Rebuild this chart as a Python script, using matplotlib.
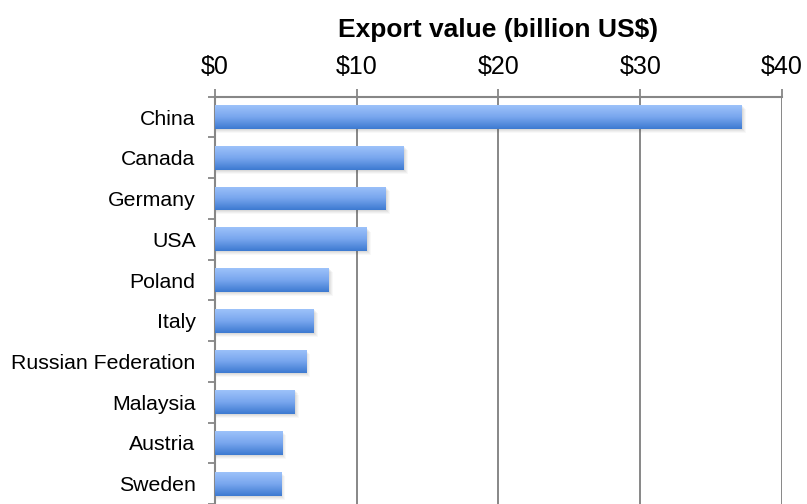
import numpy as np
import matplotlib
matplotlib.use("Agg")
import matplotlib.pyplot as plt
from matplotlib.colors import LinearSegmentedColormap
from matplotlib.ticker import FixedLocator

countries = ["China", "Canada", "Germany", "USA", "Poland", "Italy",
             "Russian Federation", "Malaysia", "Austria", "Sweden"]
export_value = [37.15, 13.3, 12.04, 10.72, 8.04, 6.96, 6.42, 5.62, 4.73, 4.66]
x_ticks = [0, 10, 20, 30, 40]
x_tick_labels = ["$0", "$10", "$20", "$30", "$40"]

plt.rcParams['font.family'] = ['Liberation Sans', 'DejaVu Sans']

fig = plt.figure(figsize=(8.07, 5.04), dpi=100)
ax = fig.add_axes([0.2664, -0.0119, 0.7026, 0.8200])

grey = '#878787'
ypos = np.arange(len(countries))
h = 0.58

# soft shadow, a few faint layers
for dx, dy, a in [(0.30, 0.10, 0.04), (0.22, 0.075, 0.05), (0.15, 0.05, 0.06), (0.08, 0.025, 0.07)]:
    ax.barh(ypos + dy, [v + dx for v in export_value], height=h, left=0,
            color='#505050', alpha=a, linewidth=0, zorder=2)

bars = ax.barh(ypos, export_value, height=h, color='none', linewidth=0, zorder=3)

cmap = LinearSegmentedColormap.from_list('bar', ['#9dc2fa', '#78a6ee', '#3d7ad1'])
grad = np.linspace(0, 1, 64).reshape(-1, 1)
for b in bars:
    x0, y0 = b.get_x(), b.get_y()
    w, hh = b.get_width(), b.get_height()
    im = ax.imshow(grad, cmap=cmap, aspect='auto', zorder=3,
                   extent=[x0, x0 + w, y0 + hh, y0], origin='upper',
                   interpolation='bilinear')
    im.set_clip_path(b)

ax.set_xlim(0, 40)
ax.set_ylim(len(countries) - 0.5 + 0.145, -0.5)

ax.xaxis.tick_top()
ax.set_xticks(x_ticks)
ax.set_xticklabels(x_tick_labels, fontsize=18)
ax.tick_params(axis='x', direction='out', length=6, width=1.3, color=grey, pad=6.5)
ax.grid(axis='x', color=grey, linewidth=1.4, zorder=1)
ax.set_axisbelow(True)

ax.yaxis.set_major_locator(FixedLocator(np.arange(-0.5, len(countries), 1.0)))
ax.yaxis.set_major_formatter(plt.NullFormatter())
ax.yaxis.set_minor_locator(FixedLocator(ypos))
ax.set_yticklabels(countries, minor=True, fontsize=15.3)
ax.tick_params(axis='y', which='major', direction='out', length=5, width=1.3, color=grey)
ax.tick_params(axis='y', which='minor', length=0, pad=14)

for s in ['right', 'bottom']:
    ax.spines[s].set_visible(False)
for s in ['left', 'top']:
    ax.spines[s].set_color(grey)
    ax.spines[s].set_linewidth(1.5)

fig.text(0.6177, 1 - 30 / 504, "Export value (billion US$)", fontsize=19,
         fontweight='bold', ha='center', va='center')

fig.savefig('out.png', dpi=100)
